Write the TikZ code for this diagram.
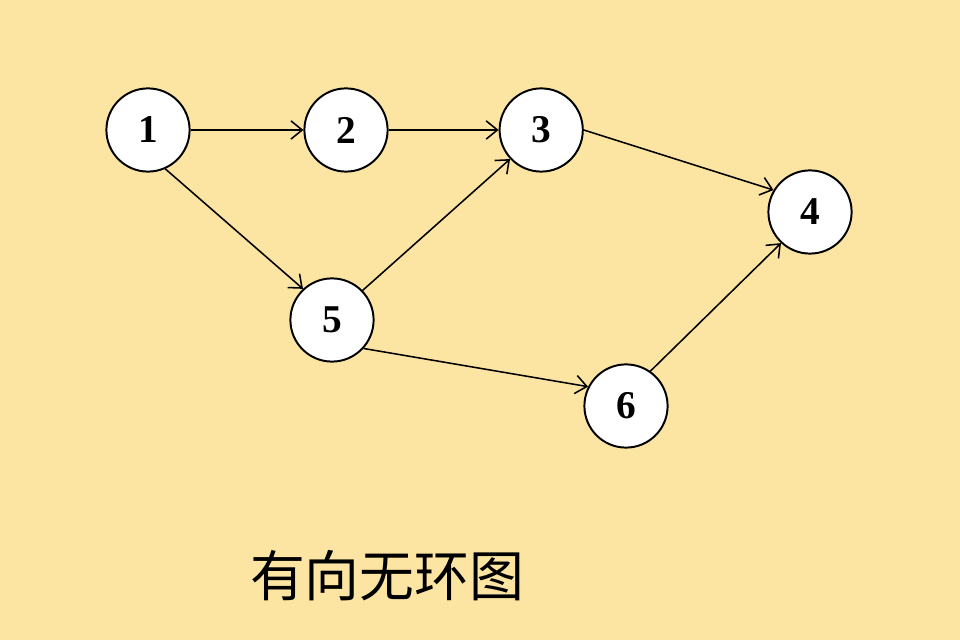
\documentclass[tikz,border=0pt]{standalone}
\usepackage{fontspec}
\setmainfont{Liberation Serif}
\newfontfamily\cjk{Noto Sans CJK SC}
\usetikzlibrary{arrows.meta}
\definecolor{paper}{RGB}{252,228,162}

\begin{document}
\begin{tikzpicture}[
    vertex/.style={
        circle, draw, fill=white, minimum size=2.08cm, inner sep=0pt,
        line width=1.4pt, font=\fontsize{28}{32}\selectfont\bfseries
    },
    arrow/.style={-{Straight Barb[length=8pt,width=13pt,line width=1.1pt]}, line width=1.1pt},
    caption/.style={font=\cjk\fontsize{39}{44}\selectfont}
]

% Background
\fill[paper] (0,0) rectangle (24,16);
\useasboundingbox (0,0) rectangle (24,16);

% Nodes
\node[vertex] (V1) at (3.7,12.75)   {1};
\node[vertex] (V2) at (8.65,12.75)  {2};
\node[vertex] (V3) at (13.53,12.75) {3};
\node[vertex] (V4) at (20.25,10.7)  {4};
\node[vertex] (V5) at (8.3,8.0)     {5};
\node[vertex] (V6) at (15.65,5.85)  {6};

% Arrows
\draw[arrow] (V1.east) -- (V2.west);
\draw[arrow] (V2.east) -- (V3.west);
\draw[arrow] (V3.east) -- (V4.149);
\draw[arrow] (V1.-66) -- (V5.133);
\draw[arrow] (V5.44) -- (V3.223);
\draw[arrow] (V5.-42) -- (V6.153);
\draw[arrow] (V6.55) -- (V4.227);

% Caption
\node[caption] (title) at (9.68,1.6) {有向无环图};

\end{tikzpicture}
\end{document}
